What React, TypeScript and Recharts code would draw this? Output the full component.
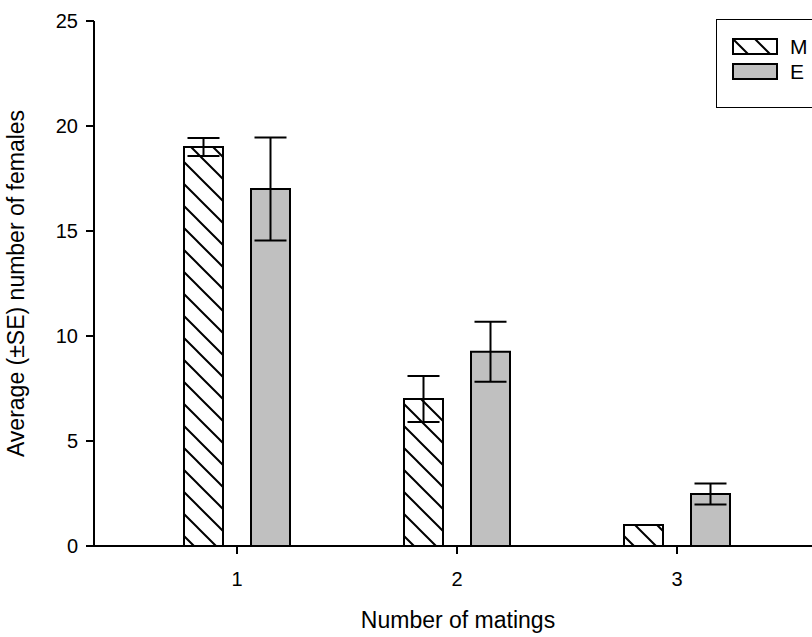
import React from 'react';
import { BarChart, Bar, XAxis, YAxis, ErrorBar, Legend } from 'recharts';

const categories = ['1', '2', '3'];
const mValues = [19, 7, 1];
const mErrors = [0.43, 1.1, 0];
const eValues = [17, 9.25, 2.48];
const eErrors = [2.45, 1.43, 0.5];
const yTicks = [0, 5, 10, 15, 20, 25];
const seriesNames = ['M', 'E'];

const data = categories.map((c, i) => ({
  cat: c,
  M: mValues[i],
  mErr: mErrors[i],
  E: eValues[i],
  eErr: eErrors[i],
}));

const FONT = '"Liberation Sans", Arial, sans-serif';

const HatchDef = ({ id }: { id: string }) => (
  <pattern id={id} patternUnits="userSpaceOnUse" width={22} height={22}>
    <rect x={0} y={0} width={22} height={22} fill="#fff" />
    <path d="M-3,-3 L25,25 M-3,19 L3,25 M19,-3 L25,3" stroke="#000" strokeWidth={2} />
  </pattern>
);

const renderLegend = () => (
  <div
    style={{
      width: 120,
      height: 89,
      border: '1.5px solid #000',
      boxSizing: 'border-box',
      background: '#fff',
      position: 'relative',
      fontFamily: FONT,
    }}
  >
    {seriesNames.map((name, i) => (
      <div
        key={name}
        style={{ position: 'absolute', left: 15, top: 18 + i * 25, height: 17, display: 'flex', alignItems: 'center' }}
      >
        <svg width={46} height={17} style={{ display: 'block' }}>
          <defs>
            <HatchDef id="hatchLegend" />
          </defs>
          <rect
            x={1}
            y={1}
            width={44}
            height={15}
            fill={i === 0 ? 'url(#hatchLegend)' : '#c0c0c0'}
            stroke="#000"
            strokeWidth={2}
          />
        </svg>
        <span style={{ marginLeft: 12, fontSize: 21, lineHeight: '17px', color: '#000' }}>{name}</span>
      </div>
    ))}
  </div>
);

const XTitle = () => (
  <text x={458} y={628} textAnchor="middle" fontSize={23} fill="#000" fontFamily={FONT}>
    Number of matings
  </text>
);

const YTitle = () => (
  <text
    x={24}
    y={283.5}
    transform="rotate(-90 24 283.5)"
    textAnchor="middle"
    fontSize={23}
    fill="#000"
    fontFamily={FONT}
  >
    Average (±SE) number of females
  </text>
);

export default function App() {
  return (
    <div style={{ position: 'fixed', left: 0, top: 0, width: 812, height: 637, overflow: 'hidden', background: '#fff' }}>
      <BarChart
        width={840}
        height={637}
        data={data}
        margin={{ top: 21, right: 13, left: 0, bottom: 0 }}
        barSize={39}
        barGap={28}
        style={{ fontFamily: FONT }}
      >
        <defs>
          <HatchDef id="hatchM" />
        </defs>
        <XAxis
          dataKey="cat"
          height={91}
          padding={{ left: 33, right: 40 }}
          tickSize={8}
          tickMargin={18}
          axisLine={{ stroke: '#000', strokeWidth: 2 }}
          tickLine={{ stroke: '#000', strokeWidth: 2 }}
          tick={{ fill: '#000', fontSize: 20, fontFamily: FONT }}
          label={<XTitle />}
        />
        <YAxis
          width={94}
          domain={[0, 25]}
          ticks={yTicks}
          tickSize={8}
          tickMargin={8}
          axisLine={{ stroke: '#000', strokeWidth: 2 }}
          tickLine={{ stroke: '#000', strokeWidth: 2 }}
          tick={{ fill: '#000', fontSize: 20, fontFamily: FONT }}
          label={<YTitle />}
        />
        <Legend
          layout="vertical"
          align="center"
          verticalAlign="middle"
          content={renderLegend}
          wrapperStyle={{ left: 716, top: 19, width: 120, height: 89 }}
        />
        <Bar dataKey="M" name="M" fill="url(#hatchM)" stroke="#000" strokeWidth={2} isAnimationActive={false}>
          <ErrorBar dataKey="mErr" width={16} stroke="#000" strokeWidth={2} direction="y" />
        </Bar>
        <Bar dataKey="E" name="E" fill="#c0c0c0" stroke="#000" strokeWidth={2} isAnimationActive={false}>
          <ErrorBar dataKey="eErr" width={16} stroke="#000" strokeWidth={2} direction="y" />
        </Bar>
      </BarChart>
    </div>
  );
}
